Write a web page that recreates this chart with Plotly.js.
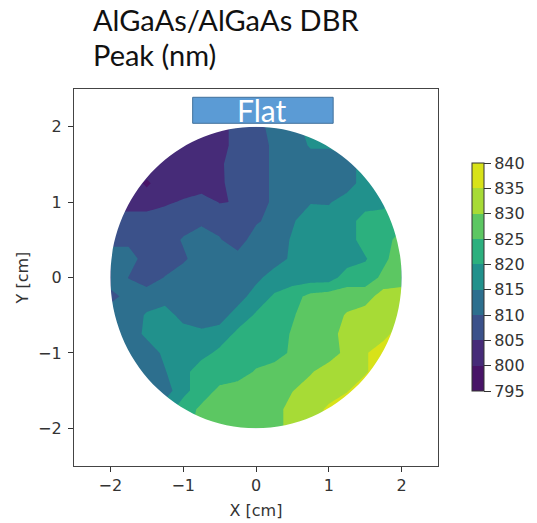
<!DOCTYPE html>
<html>
<head>
<meta charset="utf-8">
<script src="https://cdn.plot.ly/plotly-3.0.1.min.js"></script>
<style>
  html, body { margin: 0; padding: 0; background: #ffffff; }
  #chart { width: 537px; height: 523px; }
</style>
</head>
<body>
<div id="chart"></div>
<script>
// Measurement grid on the wafer (cm)
const xPos = [-2, -1.75, -1.5, -1.25, -1, -0.75, -0.5, -0.25, 0, 0.25, 0.5, 0.75, 1, 1.25, 1.5, 1.75, 2];
const yPos = [-2, -1.75, -1.5, -1.25, -1, -0.75, -0.5, -0.25, 0, 0.25, 0.5, 0.75, 1, 1.25, 1.5, 1.75, 2];

// DBR peak wavelength (nm); one row per y position, listed from y = -2 up to y = 2
const peakRows = [
  [817.5, 817.5, 817.5, 822.5, 822.5, 827.5, 827.5, 827.5, 827.5, 827.5, 832.5, 832.5, 837.5, 837.5, 837.5, 837.5, 837.5],
  [817.5, 817.5, 817.5, 817.5, 822.5, 826, 827.5, 827.5, 827.5, 827.5, 832.5, 832.5, 836, 837.5, 837.5, 837.5, 837.5],
  [812.5, 812.5, 812.5, 812.5, 818.5, 822.5, 826, 827.5, 827.5, 827.5, 829.8, 832.5, 832.5, 834.7, 837.5, 837.5, 837.5],
  [812.5, 812.5, 812.5, 814.7, 818.5, 822.5, 822.5, 822.5, 825.5, 827.5, 827.5, 829.5, 832.5, 832.5, 834.5, 837.5, 837.5],
  [812.5, 812.5, 812.5, 816, 817.5, 818.5, 821, 822.5, 822.5, 822.5, 826, 827.5, 827.5, 831.5, 834.5, 837.5, 837.5],
  [812.5, 812.5, 816, 817.5, 817.5, 816, 817.5, 821, 822.5, 822.5, 825.5, 827.5, 827.5, 832.5, 832.5, 833.5, 837.5],
  [812.5, 812.5, 815.5, 817.5, 813, 812.5, 812.5, 817.5, 820.5, 822.5, 824.5, 827.5, 827.5, 830.5, 832.5, 832.5, 834],
  [808.5, 811.5, 812.5, 812.5, 812.5, 812.5, 812.5, 812.5, 817.5, 820.5, 823, 826.5, 827.5, 827.5, 827.5, 832.5, 832.5],
  [812.5, 809.9, 807.5, 810.2, 812.5, 812.5, 812.5, 812.5, 813.5, 817.5, 817.5, 817.5, 817.5, 822.5, 822.5, 826, 827.5],
  [812.5, 812.5, 807.5, 807.5, 809.2, 812.5, 812.5, 812.5, 812.5, 812.5, 816, 817.5, 817.5, 817.5, 819.5, 824, 827.5],
  [808.5, 808.5, 807.5, 807.5, 810.5, 812.5, 810.5, 806.5, 813.5, 812.5, 815.5, 817.5, 817.5, 817.5, 822.5, 822.5, 827.5],
  [807.5, 807.5, 807.5, 807.5, 807.5, 809, 807.5, 807.5, 809, 812.5, 814.5, 817.5, 817.5, 817.5, 822.5, 822.5, 823],
  [802.5, 802.5, 802.5, 804.3, 805.5, 807, 804.8, 805.2, 807.5, 811, 812.5, 814.7, 814.5, 817.5, 817.5, 818.5, 822.5],
  [802.5, 802.5, 799.3, 802.5, 802.5, 802.5, 804, 807.5, 807.5, 811, 812.5, 812.5, 812.5, 812.5, 817.5, 817.5, 817.5],
  [802.5, 802.5, 802.5, 802.5, 802.5, 802.5, 804.2, 807.5, 807.5, 811, 812.5, 812.5, 812.5, 812.5, 817.5, 817.5, 817.5],
  [802.5, 802.5, 802.5, 802.5, 802.5, 802.5, 802.5, 807.5, 807.5, 811, 812.5, 815.5, 815.5, 817.5, 817.5, 817.5, 817.5],
  [802.5, 802.5, 802.5, 802.5, 802.5, 802.5, 802.5, 807.5, 807.5, 812.5, 812.5, 817.5, 817.5, 817.5, 817.5, 817.5, 817.5]
];

// Contour levels and colour bar ticks (nm)
const levelTicks = [795, 800, 805, 810, 815, 820, 825, 830, 835, 840];
const axisTicks = [-2, -1, 0, 1, 2];

// One viridis colour per 5 nm band, lowest band first
const bandColors = ['#481467', '#453781', '#38598c', '#2c728e', '#21918c',
                    '#28ae80', '#4ec36b', '#8fd744', '#d8e219'];

// Plotly paints the band [L, L+5] with the scale colour at L+2.5,
// which lands exactly on the stops 0.1, 0.2, ... 0.9 below.
const colorscale = [[0, bandColors[0]]];
bandColors.forEach((c, i) => colorscale.push([(i + 1) / 10, c]));
colorscale.push([1, bandColors[bandColors.length - 1]]);

const tickFont = { family: 'DejaVu Sans, sans-serif', size: 16, color: '#333333' };
const slideFont = 'Lato, sans-serif';

const trace = {
  type: 'contour',
  x: xPos,
  y: yPos,
  z: peakRows,
  autocontour: false,
  contours: { start: levelTicks[0], end: levelTicks[levelTicks.length - 1], size: 5, coloring: 'fill', showlines: false },
  line: { width: 0, smoothing: 0 },
  colorscale: colorscale,
  zauto: false,
  zmin: levelTicks[0],
  zmax: levelTicks[levelTicks.length - 1],
  hoverinfo: 'skip',
  colorbar: {
    thickness: 12, thicknessmode: 'pixels',
    len: 228, lenmode: 'pixels',
    x: 1.0926, xanchor: 'left', xpad: 0,
    y: 0.5013, yanchor: 'middle', ypad: 0,
    outlinewidth: 1, outlinecolor: '#333333',
    ticks: 'outside', ticklen: 7, tickwidth: 1, tickcolor: '#333333',
    tickmode: 'array', tickvals: levelTicks, ticktext: levelTicks.map(String),
    tickfont: tickFont
  }
};

// White mask around the round wafer edge (square with a circular hole, r = 2 cm)
const k = 1.1046;
const waferMask = 'M -2.06 -2.06 H 2.06 V 2.06 H -2.06 Z ' +
  'M 2 0 C 2 ' + k + ' ' + k + ' 2 0 2 ' +
  'C -' + k + ' 2 -2 ' + k + ' -2 0 ' +
  'C -2 -' + k + ' -' + k + ' -2 0 -2 ' +
  'C ' + k + ' -2 2 -' + k + ' 2 0 Z';

const axisCommon = {
  range: [-2.5, 2.5],
  tickmode: 'array',
  tickvals: axisTicks,
  ticks: 'outside', ticklen: 5, tickwidth: 1, tickcolor: '#333333',
  showline: true, mirror: true, linecolor: '#444444', linewidth: 1.2,
  showgrid: false, zeroline: false,
  tickfont: tickFont,
  automargin: false,
  fixedrange: true
};

const layout = {
  width: 537,
  height: 523,
  margin: { l: 74, r: 96, t: 89, b: 57, pad: 0 },
  paper_bgcolor: '#ffffff',
  plot_bgcolor: '#ffffff',
  showlegend: false,
  xaxis: Object.assign({}, axisCommon, {
    ticklabelstandoff: 0,
    title: { text: 'X [cm]', font: tickFont, standoff: 10 }
  }),
  yaxis: Object.assign({}, axisCommon, {
    ticklabelstandoff: 3,
    title: { text: 'Y [cm]', font: tickFont, standoff: 5 }
  }),
  shapes: [
    { type: 'path', xref: 'x', yref: 'y', path: waferMask, fillrule: 'evenodd',
      fillcolor: '#ffffff', line: { width: 0 }, layer: 'above' },
    { type: 'rect', xref: 'x', yref: 'y', x0: -0.87, x1: 1.06, y0: 2.045, y1: 2.39,
      fillcolor: '#5b9bd5', line: { color: '#41719c', width: 1 }, layer: 'above' }
  ],
  annotations: [
    { xref: 'paper', yref: 'paper', x: 0.0518, y: 1.1836, xanchor: 'left', yanchor: 'middle',
      text: 'AlGaAs/AlGaAs DBR', showarrow: false, borderpad: 0, borderwidth: 0,
      font: { family: slideFont, size: 29, color: '#111111' } },
    { xref: 'paper', yref: 'paper', x: 0.0518, y: 1.0907, xanchor: 'left', yanchor: 'middle',
      text: 'Peak (nm)', showarrow: false, borderpad: 0, borderwidth: 0,
      font: { family: slideFont, size: 29, color: '#111111' } },
    { xref: 'x', yref: 'y', x: 0.08, y: 2.224, xanchor: 'center', yanchor: 'middle',
      text: 'Flat', showarrow: false, borderpad: 0, borderwidth: 0,
      font: { family: slideFont, size: 30, color: '#ffffff' } },
    { xref: 'paper', yref: 'paper', x: -0.1526, y: -0.1305, xanchor: 'left', yanchor: 'top',
      text: 'DBR Peak', showarrow: false, borderpad: 0, borderwidth: 0,
      font: { family: slideFont, size: 29, color: '#7f7f7f' } }
  ]
};

Plotly.newPlot('chart', [trace], layout, { staticPlot: true, displayModeBar: false });
</script>
</body>
</html>
